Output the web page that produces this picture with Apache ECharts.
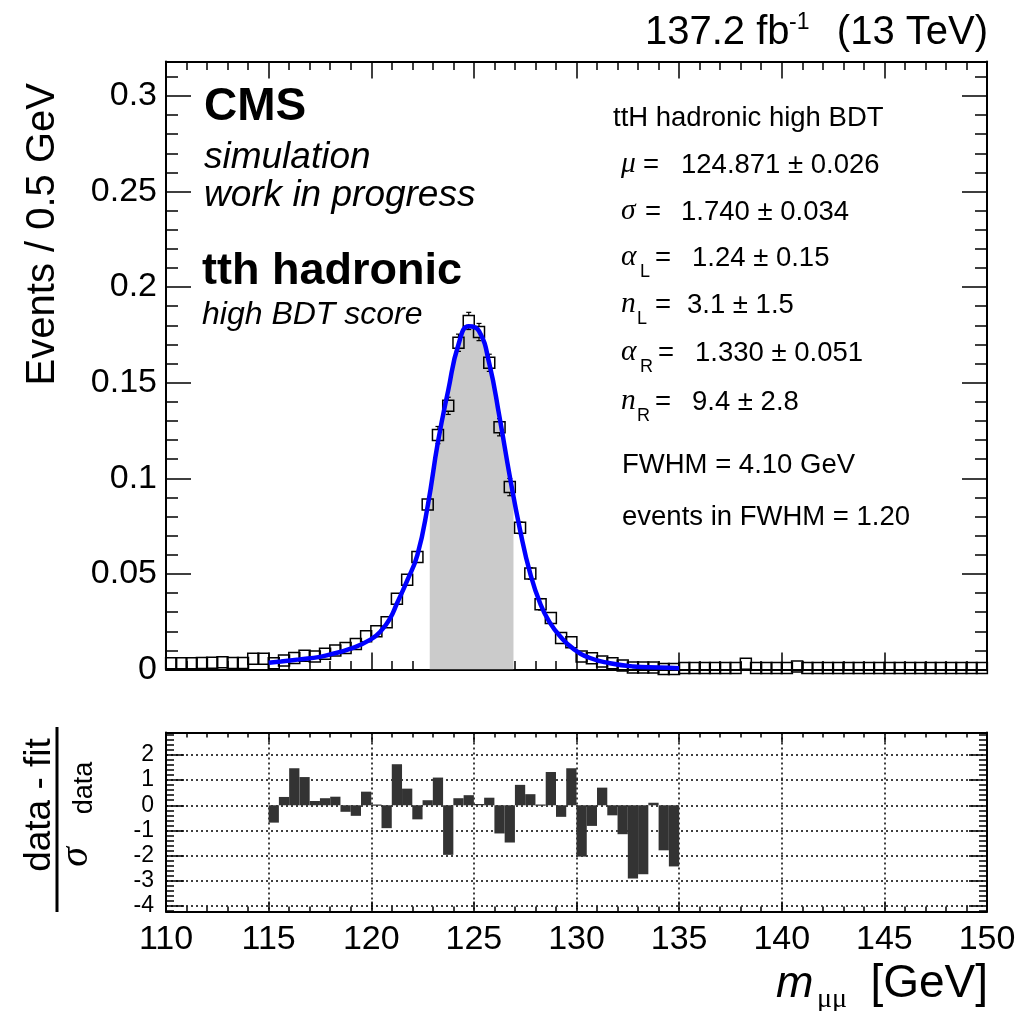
<!DOCTYPE html>
<html>
<head>
<meta charset="utf-8">
<script src="https://cdn.jsdelivr.net/npm/echarts@6/dist/echarts.min.js"></script>
<style>
html, body { margin: 0; padding: 0; background: #fff; }
#main { width: 1023px; height: 1011px; }
</style>
</head>
<body>
<div id="main"></div>
<script>
// bin centres of the 0.5 GeV histogram
var massBins = [
    110.25, 110.75, 111.25, 111.75, 112.25, 112.75, 113.25, 113.75, 114.25, 114.75,
    115.25, 115.75, 116.25, 116.75, 117.25, 117.75, 118.25, 118.75, 119.25, 119.75,
    120.25, 120.75, 121.25, 121.75, 122.25, 122.75, 123.25, 123.75, 124.25, 124.75,
    125.25, 125.75, 126.25, 126.75, 127.25, 127.75, 128.25, 128.75, 129.25, 129.75,
    130.25, 130.75, 131.25, 131.75, 132.25, 132.75, 133.25, 133.75, 134.25, 134.75,
    135.25, 135.75, 136.25, 136.75, 137.25, 137.75, 138.25, 138.75, 139.25, 139.75,
    140.25, 140.75, 141.25, 141.75, 142.25, 142.75, 143.25, 143.75, 144.25, 144.75,
    145.25, 145.75, 146.25, 146.75, 147.25, 147.75, 148.25, 148.75, 149.25, 149.75
];
var events = [
    0.0033, 0.0033, 0.0033, 0.0034, 0.0035, 0.0038, 0.0034, 0.0034, 0.0056, 0.0056,
    0.0033, 0.0047, 0.0060, 0.0072, 0.0068, 0.0082, 0.0100, 0.0112, 0.0133, 0.0174,
    0.0200, 0.0247, 0.0370, 0.0470, 0.0589, 0.0863, 0.1226, 0.1379, 0.1709, 0.1823,
    0.1765, 0.1604, 0.1267, 0.0954, 0.0741, 0.0502, 0.0341, 0.0270, 0.0165, 0.0143,
    0.0068, 0.0059, 0.0042, 0.0033, 0.0021, 0.0011, 0.0011, 0.0011, 0.0003, 0.0003,
    0.0008, 0.0008, 0.0008, 0.0008, 0.0008, 0.0008, 0.0030, 0.0008, 0.0008, 0.0008,
    0.0008, 0.0016, 0.0008, 0.0008, 0.0008, 0.0008, 0.0008, 0.0008, 0.0008, 0.0008,
    0.0008, 0.0008, 0.0008, 0.0008, 0.0008, 0.0008, 0.0008, 0.0008, 0.0008, 0.0008
];
var eventErrors = [
    0.0008, 0.0008, 0.0008, 0.0008, 0.0008, 0.0008, 0.0008, 0.0008, 0.0008, 0.0008,
    0.0010, 0.0010, 0.0010, 0.0010, 0.0010, 0.0010, 0.0010, 0.0010, 0.0015, 0.0015,
    0.0015, 0.0015, 0.0015, 0.0025, 0.0025, 0.0025, 0.0045, 0.0045, 0.0045, 0.0045,
    0.0045, 0.0045, 0.0045, 0.0045, 0.0030, 0.0030, 0.0030, 0.0020, 0.0020, 0.0020,
    0.0020, 0.0010, 0.0010, 0.0010, 0.0010, 0.0010, 0.0010, 0.0010, 0.0010, 0.0010,
    0.0006, 0.0006, 0.0006, 0.0006, 0.0006, 0.0006, 0.0006, 0.0006, 0.0006, 0.0006,
    0.0006, 0.0006, 0.0006, 0.0006, 0.0006, 0.0006, 0.0006, 0.0006, 0.0006, 0.0006,
    0.0006, 0.0006, 0.0006, 0.0006, 0.0006, 0.0006, 0.0006, 0.0006, 0.0006, 0.0006
];

// fitted double crystal ball
var fitMass = [115.0, 115.6, 116.5, 117.5, 118.0, 119.0, 119.96, 120.5, 120.93, 121.25,
    121.75, 122.25, 122.75, 123.25, 123.75, 124.25, 124.75, 125.25, 125.75, 126.25,
    126.75, 127.25, 127.75, 128.25, 128.71, 129.2, 129.84, 130.66, 131.63, 132.75,
    134.0, 135.0];
var fitValue = [0.0035, 0.0042, 0.0053, 0.0066, 0.0079, 0.0109, 0.0156, 0.0205, 0.0270, 0.0345,
    0.0465, 0.0600, 0.0855, 0.1190, 0.1460, 0.1700, 0.1795, 0.1770, 0.1600, 0.1320,
    0.1010, 0.0730, 0.0500, 0.0340, 0.0244, 0.0174, 0.0109, 0.0060, 0.0033, 0.0016,
    0.0010, 0.0007];

// FWHM window
var fwhmEdges = [122.85, 126.93];
var fwhmEdgeValue = [0.092, 0.091];

// pull panel: bins 115-135 GeV
var pullBins = [
    115.25, 115.75, 116.25, 116.75, 117.25, 117.75, 118.25, 118.75, 119.25, 119.75,
    120.25, 120.75, 121.25, 121.75, 122.25, 122.75, 123.25, 123.75, 124.25, 124.75,
    125.25, 125.75, 126.25, 126.75, 127.25, 127.75, 128.25, 128.75, 129.25, 129.75,
    130.25, 130.75, 131.25, 131.75, 132.25, 132.75, 133.25, 133.75, 134.25, 134.75
];
var pulls = [
    -0.69, 0.33, 1.47, 1.12, 0.17, 0.28, 0.34, -0.26, -0.42, 0.54,
    0.03, -0.91, 1.63, 0.66, -0.56, 0.20, 1.10, -1.97, 0.28, 0.40,
    0.05, 0.30, -1.12, -1.48, 0.81, 0.44, 0.03, 1.32, -0.46, 1.47,
    -2.04, -0.82, 0.70, -0.40, -1.15, -2.91, -2.74, 0.10, -1.79, -2.43
];
var binWidth = 0.5;

var pullTicks = [-4, -3, -2, -1, 0, 1, 2];
var pullMinorTicks = [];
for (var t = -42; t <= 28; t += 2) pullMinorTicks.push(t / 10);

var FONT = '"Liberation Sans", Arial, Helvetica, sans-serif';
var SERIF = '"Liberation Serif", "Times New Roman", serif';

function massAxis(grid, pos, showLabel, major, minor) {
    return {
        type: 'value', gridIndex: grid, position: pos,
        min: 110, max: 150, interval: 5,
        axisLine: { show: true, onZero: false, lineStyle: { color: '#000', width: 2 } },
        axisTick: { show: true, inside: true, length: major, lineStyle: { color: '#000', width: 1.5 } },
        minorTick: { show: true, splitNumber: 5, length: minor, lineStyle: { color: '#000', width: 1.5 } },
        axisLabel: { show: showLabel, color: '#000', fontFamily: FONT, fontSize: 34, margin: 11 },
        splitLine: { show: grid === 1 && pos === 'bottom', lineStyle: { color: '#000', width: 1.5, type: [2, 3] } }
    };
}

function renderPoint(params, api) {
    var x = api.value(0), y = api.value(1), e = api.value(2);
    var c = api.coord([x, y]);
    var hi = api.coord([x, y + e])[1];
    var lo = api.coord([x, y - e])[1];
    var h = 5.5;
    var kids = [];
    var st = { stroke: '#000', lineWidth: 1.2 };
    if (c[1] - hi > h) {
        kids.push({ type: 'line', shape: { x1: c[0], y1: c[1] - h, x2: c[0], y2: hi }, style: st });
        kids.push({ type: 'line', shape: { x1: c[0] - 2.5, y1: hi, x2: c[0] + 2.5, y2: hi }, style: st });
        kids.push({ type: 'line', shape: { x1: c[0], y1: c[1] + h, x2: c[0], y2: lo }, style: st });
        kids.push({ type: 'line', shape: { x1: c[0] - 2.5, y1: lo, x2: c[0] + 2.5, y2: lo }, style: st });
    }
    kids.push({ type: 'rect', shape: { x: c[0] - h, y: c[1] - h, width: 2 * h, height: 2 * h },
        style: { fill: 'none', stroke: '#000', lineWidth: 1.5 } });
    return { type: 'group', children: kids };
}

function renderPull(params, api) {
    var x = api.value(0), r = api.value(1);
    var p0 = api.coord([x - binWidth / 2, 0]);
    var p1 = api.coord([x + binWidth / 2, r]);
    var top = Math.min(p0[1], p1[1]);
    var hgt = Math.max(Math.abs(p1[1] - p0[1]), 1.2);
    return { type: 'rect', shape: { x: p0[0], y: top, width: p1[0] - p0[0], height: hgt },
        style: { fill: '#333333' } };
}

// text helper, y given as baseline
function txt(x, base, str, size, style, align, family) {
    return {
        type: 'text', x: x, y: base - 0.35 * size, z: 100,
        style: {
            text: str, fill: '#000',
            font: (style || '') + ' ' + size + 'px ' + (family || FONT),
            align: align || 'left', textAlign: align || 'left',
            verticalAlign: 'middle', textVerticalAlign: 'middle'
        }
    };
}
function rtxt(x, y, str, size, style, align, family) {
    var o = txt(x, y, str, size, style, align, family);
    o.y = y;
    o.rotation = Math.PI / 2;
    return o;
}

var chart = echarts.init(document.getElementById('main'));

var pointData = massBins.map(function (m, i) { return [m, events[i], eventErrors[i]]; });
var fitData = fitMass.map(function (m, i) { return [m, fitValue[i]]; });
var fillData = [[fwhmEdges[0], fwhmEdgeValue[0]]];
fitMass.forEach(function (m, i) {
    if (m > fwhmEdges[0] && m < fwhmEdges[1]) fillData.push([m, fitValue[i]]);
});
fillData.push([fwhmEdges[1], fwhmEdgeValue[1]]);
var pullData = pullBins.map(function (m, i) { return [m, pulls[i]]; });

var PS = 27.5;   // fit parameter block font size

var option = {
    animation: false,
    backgroundColor: '#fff',
    grid: [
        { left: 166, right: 36, top: 61.5, height: 608 },
        { left: 166, right: 36, top: 732.5, height: 179 }
    ],
    xAxis: [
        massAxis(0, 'bottom', false, 17, 8.5),
        massAxis(0, 'top', false, 17, 8.5),
        massAxis(1, 'bottom', true, 10, 5),
        massAxis(1, 'top', false, 10, 5)
    ],
    yAxis: [
        {
            type: 'value', gridIndex: 0, position: 'left', min: 0, max: 0.318, interval: 0.05,
            axisLine: { show: true, onZero: false, lineStyle: { color: '#000', width: 2 } },
            axisTick: { show: true, inside: true, length: 25, lineStyle: { color: '#000', width: 1.5 } },
            minorTick: { show: true, splitNumber: 5, length: 12, lineStyle: { color: '#000', width: 1.5 } },
            axisLabel: { color: '#000', fontFamily: FONT, fontSize: 34, margin: 9, showMaxLabel: false,
                formatter: function (v) { return String(+v.toFixed(2)); } },
            splitLine: { show: false }
        },
        {
            type: 'value', gridIndex: 0, position: 'right', min: 0, max: 0.318, interval: 0.05,
            axisLine: { show: true, onZero: false, lineStyle: { color: '#000', width: 2 } },
            axisTick: { show: true, inside: true, length: 25, lineStyle: { color: '#000', width: 1.5 } },
            minorTick: { show: true, splitNumber: 5, length: 12, lineStyle: { color: '#000', width: 1.5 } },
            axisLabel: { show: false }, splitLine: { show: false }
        },
        {
            type: 'value', gridIndex: 1, position: 'left', min: -4.22, max: 2.89,
            axisLine: { show: true, onZero: false, lineStyle: { color: '#000', width: 2 } },
            axisTick: { show: true, inside: true, length: 18, customValues: pullTicks,
                lineStyle: { color: '#000', width: 1.5 } },
            axisLabel: { color: '#000', fontFamily: FONT, fontSize: 23, margin: 12, customValues: pullTicks },
            splitLine: { show: true, lineStyle: { color: '#000', width: 1.5, type: [2, 3] } }
        },
        {
            type: 'value', gridIndex: 1, position: 'left', min: -4.22, max: 2.89,
            axisLine: { show: false },
            axisTick: { show: true, inside: true, length: 8, customValues: pullMinorTicks,
                lineStyle: { color: '#000', width: 1.5 } },
            axisLabel: { show: false }, splitLine: { show: false }
        },
        {
            type: 'value', gridIndex: 1, position: 'right', min: -4.22, max: 2.89,
            axisLine: { show: true, onZero: false, lineStyle: { color: '#000', width: 2 } },
            axisTick: { show: true, inside: true, length: 18, customValues: pullTicks,
                lineStyle: { color: '#000', width: 1.5 } },
            axisLabel: { show: false }, splitLine: { show: false }
        },
        {
            type: 'value', gridIndex: 1, position: 'right', min: -4.22, max: 2.89,
            axisLine: { show: false },
            axisTick: { show: true, inside: true, length: 8, customValues: pullMinorTicks,
                lineStyle: { color: '#000', width: 1.5 } },
            axisLabel: { show: false }, splitLine: { show: false }
        }
    ],
    series: [
        {
            name: 'FWHM', type: 'line', xAxisIndex: 0, yAxisIndex: 0, data: fillData,
            smooth: 0.5, showSymbol: false, symbol: 'none',
            lineStyle: { width: 0 }, areaStyle: { color: '#cbcbcb', opacity: 1 }, z: 2
        },
        {
            name: 'simulation', type: 'custom', xAxisIndex: 0, yAxisIndex: 0, data: pointData,
            encode: { x: 0, y: 1 }, renderItem: renderPoint, clip: false, z: 3
        },
        {
            name: 'fit', type: 'line', xAxisIndex: 0, yAxisIndex: 0, data: fitData,
            smooth: 0.5, showSymbol: false, symbol: 'none',
            lineStyle: { color: '#0000ff', width: 4.5 }, z: 4
        },
        {
            name: 'pull', type: 'custom', xAxisIndex: 2, yAxisIndex: 2, data: pullData,
            encode: { x: 0, y: 1 }, renderItem: renderPull, z: 3
        }
    ],
    graphic: [
        txt(645, 47, '137.2 fb', 40),
        txt(789, 31, '-1', 23),
        txt(988, 47, '(13 TeV)', 40, '', 'right'),

        txt(204, 123, 'CMS', 46, 'bold'),
        txt(204, 171, 'simulation', 37, 'italic'),
        txt(204, 209, 'work in progress', 37, 'italic'),
        txt(202, 287, 'tth hadronic', 45, 'bold'),
        txt(202, 326, 'high BDT score', 32, 'italic'),

        txt(613, 128, 'ttH hadronic high BDT', PS),
        txt(621, 175, 'μ', PS + 2, 'italic', 'left', SERIF),
        txt(643, 175, '=', PS),
        txt(681, 175, '124.871 ± 0.026', PS),
        txt(621, 222, 'σ', PS + 2, 'italic', 'left', SERIF),
        txt(645, 222, '=', PS),
        txt(681, 222, '1.740 ± 0.034', PS),
        txt(621, 268, 'α', PS + 2, 'italic', 'left', SERIF),
        txt(640, 278, 'L', 18),
        txt(655, 268, '=', PS),
        txt(692, 268, '1.24 ± 0.15', PS),
        txt(621, 315, 'n', PS + 2, 'italic', 'left', SERIF),
        txt(637, 325, 'L', 18),
        txt(655, 315, '=', PS),
        txt(687, 315, '3.1 ± 1.5', PS),
        txt(621, 363, 'α', PS + 2, 'italic', 'left', SERIF),
        txt(640, 373, 'R', 18),
        txt(658, 363, '=', PS),
        txt(695, 363, '1.330 ± 0.051', PS),
        txt(621, 412, 'n', PS + 2, 'italic', 'left', SERIF),
        txt(637, 422, 'R', 18),
        txt(655, 412, '=', PS),
        txt(692, 412, '9.4 ± 2.8', PS),
        txt(622, 475, 'FWHM = 4.10 GeV', PS),
        txt(622, 527, 'events in FWHM = 1.20', PS),

        rtxt(43, 83, 'Events / 0.5 GeV', 40, '', 'right'),
        rtxt(40, 805, 'data - fit', 37, '', 'center'),
        {
            type: 'line', z: 100,
            shape: { x1: 57, y1: 727, x2: 57, y2: 912 },
            style: { stroke: '#000', lineWidth: 3 }
        },
        rtxt(76, 857, 'σ', 40, 'italic', 'center', SERIF),
        rtxt(85, 788, 'data', 27, '', 'center'),

        txt(776, 1000, 'm', 45, 'italic'),
        txt(817, 1009, 'μμ', 28, '', 'left', SERIF),
        txt(988, 1000, '[GeV]', 46, '', 'right')
    ]
};

chart.setOption(option);
window.addEventListener('resize', chart.resize);
</script>
</body>
</html>
